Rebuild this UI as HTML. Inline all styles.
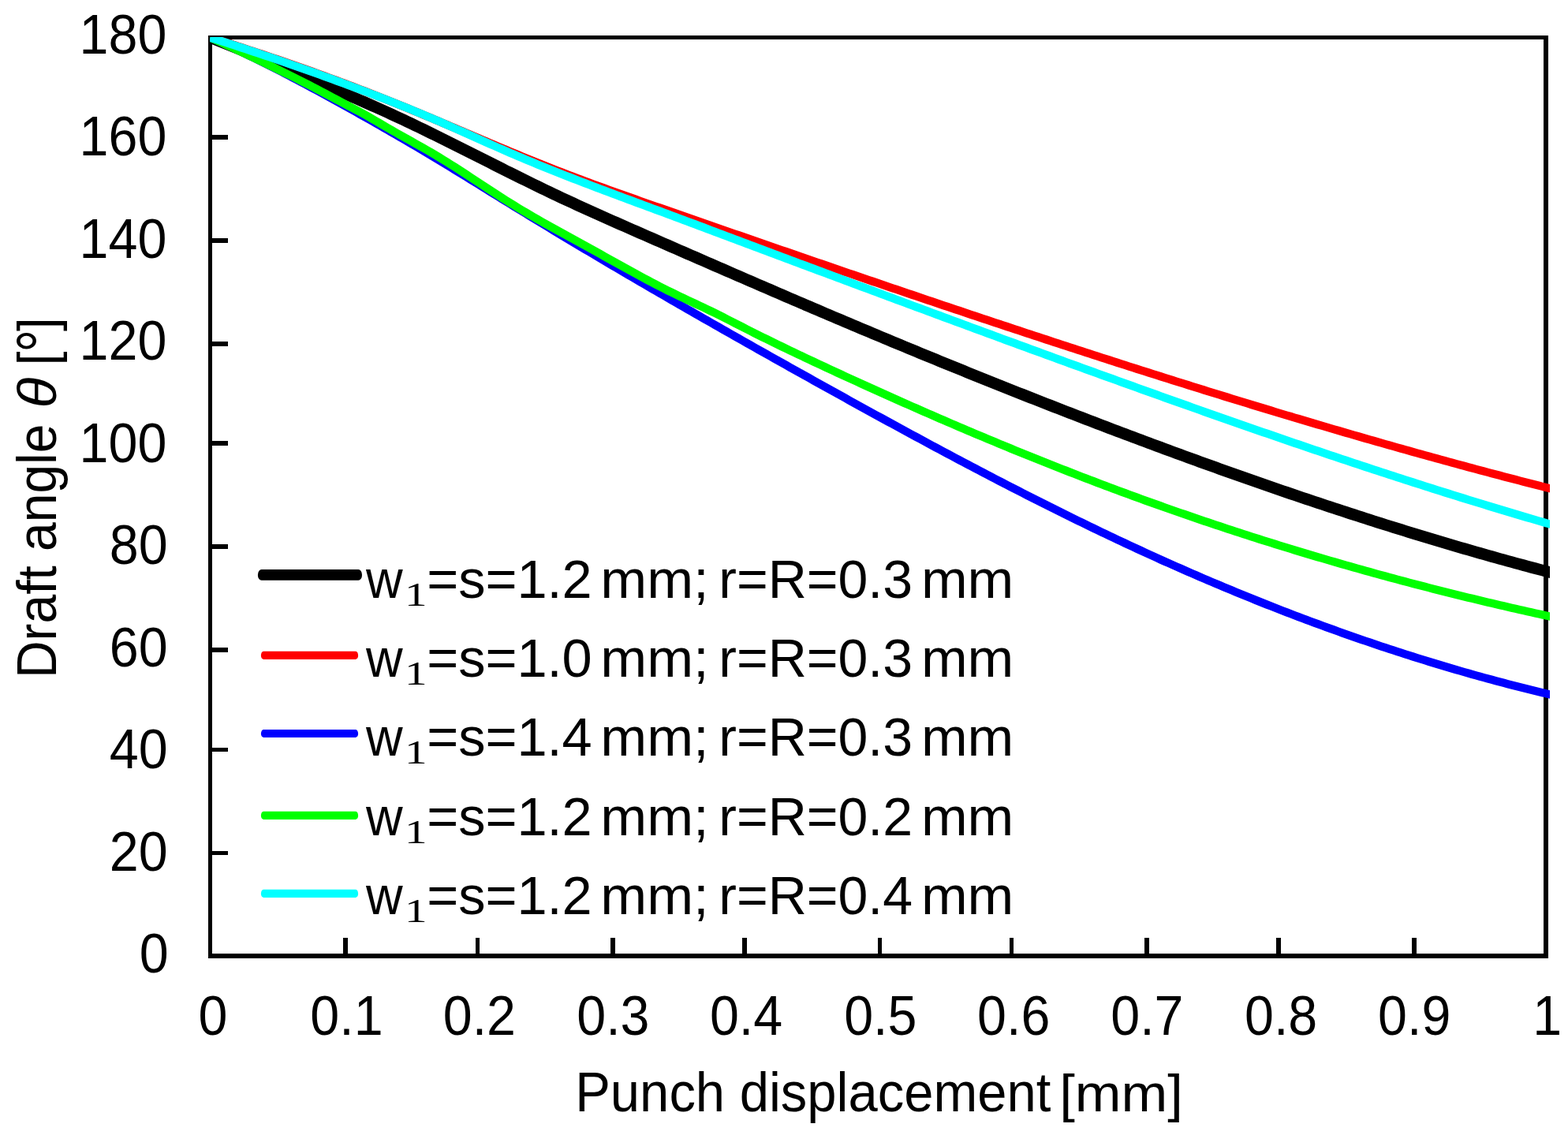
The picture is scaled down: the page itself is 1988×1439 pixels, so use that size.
<!DOCTYPE html>
<html><head><meta charset="utf-8"><title>Draft angle vs punch displacement</title>
<style>
html,body{margin:0;padding:0;background:#fff;}
body{width:1988px;height:1439px;overflow:hidden;}
svg{display:block;}
text{font-family:"Liberation Sans",Arial,sans-serif;fill:#000;font-kerning:none;}
text.serif{font-family:"Liberation Serif","Times New Roman",serif;}
text.it{font-style:italic;}
</style></head>
<body>
<svg width="1988" height="1439" viewBox="0 0 1988 1439">
<rect width="1988" height="1439" fill="#fff"/>
<g fill="#000" shape-rendering="crispEdges"><rect x="269" y="171" width="20" height="6"/><rect x="269" y="302" width="20" height="6"/><rect x="269" y="433" width="20" height="6"/><rect x="269" y="559" width="20" height="6"/><rect x="269" y="690" width="20" height="6"/><rect x="269" y="821" width="20" height="6"/><rect x="269" y="948" width="20" height="5"/><rect x="269" y="1079" width="20" height="5"/><rect x="435" y="1189" width="6" height="20"/><rect x="603" y="1189" width="5" height="20"/><rect x="774" y="1189" width="6" height="20"/><rect x="941" y="1189" width="6" height="20"/><rect x="1113" y="1189" width="5" height="20"/><rect x="1280" y="1189" width="5" height="20"/><rect x="1451" y="1189" width="6" height="20"/><rect x="1618" y="1189" width="6" height="20"/><rect x="1790" y="1189" width="6" height="20"/><rect x="264" y="45" width="1699" height="5"/><rect x="264" y="45" width="5" height="1170"/><rect x="1957" y="45" width="6" height="1170"/><rect x="264" y="1209" width="1699" height="6"/></g>
<g><text transform="translate(100.61,67.7) scale(0.9418,1)" font-size="70.5">180</text><text transform="translate(100.61,197.2) scale(0.9418,1)" font-size="70.5">160</text><text transform="translate(100.61,326.7) scale(0.9418,1)" font-size="70.5">140</text><text transform="translate(100.61,456.2) scale(0.9418,1)" font-size="70.5">120</text><text transform="translate(100.61,585.7) scale(0.9418,1)" font-size="70.5">100</text><text transform="translate(138.74,715.2) scale(0.9418,1)" font-size="70.5">80</text><text transform="translate(138.74,844.7) scale(0.9418,1)" font-size="70.5">60</text><text transform="translate(138.74,974.2) scale(0.9418,1)" font-size="70.5">40</text><text transform="translate(138.74,1103.7) scale(0.9418,1)" font-size="70.5">20</text><text transform="translate(176.67,1233.2) scale(0.9418,1)" font-size="70.5">0</text></g>
<g><text transform="translate(251.39,1312) scale(0.9418,1)" font-size="70.5">0</text><text transform="translate(393.31,1312) scale(0.9418,1)" font-size="70.5">0.1</text><text transform="translate(561.72,1312) scale(0.9418,1)" font-size="70.5">0.2</text><text transform="translate(731.21,1312) scale(0.9418,1)" font-size="70.5">0.3</text><text transform="translate(899.92,1312) scale(0.9418,1)" font-size="70.5">0.4</text><text transform="translate(1070.14,1312) scale(0.9418,1)" font-size="70.5">0.5</text><text transform="translate(1239.01,1312) scale(0.9418,1)" font-size="70.5">0.6</text><text transform="translate(1408.22,1312) scale(0.9418,1)" font-size="70.5">0.7</text><text transform="translate(1577.99,1312) scale(0.9418,1)" font-size="70.5">0.8</text><text transform="translate(1747.12,1312) scale(0.9418,1)" font-size="70.5">0.9</text><text transform="translate(1943.13,1312) scale(0.9418,1)" font-size="70.5">1</text></g>
<g><text transform="translate(729.2,1408.8) scale(0.9570,1)" font-size="70">Punch displacement </text><text transform="translate(1343.17,1408.8) scale(1.0453,1)" font-size="67.5">[mm]</text></g>
<g><text transform="translate(71.2,860.11) rotate(-90) scale(0.9420,1)" font-size="70">Draft angle </text><text class="it" transform="translate(71,517.43) rotate(-90) scale(1.0473,1)" font-size="68.4">&#952; </text><text transform="translate(71,463.36) rotate(-90) scale(0.9426,1)" font-size="67.8">[</text><text transform="translate(83.1,447) rotate(-90) scale(0.8345,1)" font-size="88.5">&#176;</text><text transform="translate(71,419.99) rotate(-90) scale(0.9203,1)" font-size="67.8">]</text></g>
<clipPath id="pc"><rect x="266" y="47" width="1699" height="1166"/></clipPath>
<g clip-path="url(#pc)" fill="none" stroke-linejoin="round">
<path d="M266.5,47.50 L271.5,49.48 L276.5,51.47 L281.5,53.47 L286.5,55.48 L291.5,57.50 L296.5,59.52 L301.5,61.55 L306.5,63.59 L311.5,65.64 L316.5,67.69 L321.5,69.75 L326.5,71.82 L331.5,73.89 L336.5,75.97 L341.5,78.05 L346.5,80.14 L351.5,82.24 L356.5,84.33 L361.5,86.44 L366.5,88.55 L371.5,90.66 L376.5,92.78 L381.5,94.90 L386.5,97.02 L391.5,99.15 L396.5,101.28 L401.5,103.42 L406.5,105.55 L411.5,107.69 L416.5,109.83 L421.5,111.98 L426.5,114.12 L431.5,116.27 L436.5,118.42 L441.5,120.58 L446.5,122.75 L451.5,124.92 L456.5,127.10 L461.5,129.29 L466.5,131.49 L471.5,133.71 L476.5,135.94 L481.5,138.18 L486.5,140.43 L491.5,142.70 L496.5,144.99 L501.5,147.30 L506.5,149.63 L511.5,151.97 L516.5,154.33 L521.5,156.71 L526.5,159.11 L531.5,161.51 L536.5,163.93 L541.5,166.37 L546.5,168.82 L551.5,171.27 L556.5,173.74 L561.5,176.22 L566.5,178.70 L571.5,181.19 L576.5,183.69 L581.5,186.20 L586.5,188.71 L591.5,191.22 L596.5,193.74 L601.5,196.26 L606.5,198.78 L611.5,201.30 L616.5,203.82 L621.5,206.34 L626.5,208.86 L631.5,211.38 L636.5,213.89 L641.5,216.40 L646.5,218.90 L651.5,221.39 L656.5,223.88 L661.5,226.36 L666.5,228.83 L671.5,231.29 L676.5,233.74 L681.5,236.18 L686.5,238.60 L691.5,241.02 L696.5,243.41 L701.5,245.80 L706.5,248.17 L711.5,250.52 L716.5,252.86 L721.5,255.18 L726.5,257.49 L731.5,259.79 L736.5,262.08 L741.5,264.36 L746.5,266.63 L751.5,268.89 L756.5,271.13 L761.5,273.37 L766.5,275.61 L771.5,277.83 L776.5,280.05 L781.5,282.27 L786.5,284.48 L791.5,286.68 L796.5,288.88 L801.5,291.08 L806.5,293.27 L811.5,295.47 L816.5,297.66 L821.5,299.85 L826.5,302.03 L831.5,304.22 L836.5,306.41 L841.5,308.59 L846.5,310.77 L851.5,312.96 L856.5,315.14 L861.5,317.32 L866.5,319.51 L871.5,321.69 L876.5,323.87 L881.5,326.05 L886.5,328.23 L891.5,330.42 L896.5,332.59 L901.5,334.77 L906.5,336.95 L911.5,339.13 L916.5,341.31 L921.5,343.48 L926.5,345.65 L931.5,347.83 L936.5,350.00 L941.5,352.17 L946.5,354.34 L951.5,356.51 L956.5,358.67 L961.5,360.84 L966.5,363.00 L971.5,365.16 L976.5,367.32 L981.5,369.48 L986.5,371.64 L991.5,373.79 L996.5,375.95 L1001.5,378.10 L1006.5,380.25 L1011.5,382.39 L1016.5,384.54 L1021.5,386.68 L1026.5,388.82 L1031.5,390.96 L1036.5,393.09 L1041.5,395.22 L1046.5,397.35 L1051.5,399.48 L1056.5,401.60 L1061.5,403.73 L1066.5,405.84 L1071.5,407.96 L1076.5,410.07 L1081.5,412.19 L1086.5,414.29 L1091.5,416.40 L1096.5,418.50 L1101.5,420.60 L1106.5,422.70 L1111.5,424.79 L1116.5,426.88 L1121.5,428.97 L1126.5,431.06 L1131.5,433.14 L1136.5,435.22 L1141.5,437.29 L1146.5,439.37 L1151.5,441.44 L1156.5,443.51 L1161.5,445.57 L1166.5,447.63 L1171.5,449.69 L1176.5,451.75 L1181.5,453.80 L1186.5,455.85 L1191.5,457.90 L1196.5,459.94 L1201.5,461.98 L1206.5,464.02 L1211.5,466.05 L1216.5,468.08 L1221.5,470.11 L1226.5,472.14 L1231.5,474.16 L1236.5,476.18 L1241.5,478.19 L1246.5,480.20 L1251.5,482.21 L1256.5,484.22 L1261.5,486.22 L1266.5,488.22 L1271.5,490.22 L1276.5,492.21 L1281.5,494.20 L1286.5,496.18 L1291.5,498.17 L1296.5,500.15 L1301.5,502.12 L1306.5,504.09 L1311.5,506.06 L1316.5,508.03 L1321.5,509.99 L1326.5,511.95 L1331.5,513.90 L1336.5,515.86 L1341.5,517.81 L1346.5,519.75 L1351.5,521.69 L1356.5,523.63 L1361.5,525.56 L1366.5,527.50 L1371.5,529.42 L1376.5,531.35 L1381.5,533.27 L1386.5,535.18 L1391.5,537.10 L1396.5,539.01 L1401.5,540.91 L1406.5,542.81 L1411.5,544.71 L1416.5,546.61 L1421.5,548.50 L1426.5,550.39 L1431.5,552.27 L1436.5,554.15 L1441.5,556.03 L1446.5,557.90 L1451.5,559.77 L1456.5,561.63 L1461.5,563.49 L1466.5,565.35 L1471.5,567.20 L1476.5,569.05 L1481.5,570.90 L1486.5,572.74 L1491.5,574.58 L1496.5,576.41 L1501.5,578.24 L1506.5,580.06 L1511.5,581.89 L1516.5,583.70 L1521.5,585.52 L1526.5,587.32 L1531.5,589.13 L1536.5,590.93 L1541.5,592.72 L1546.5,594.51 L1551.5,596.30 L1556.5,598.08 L1561.5,599.86 L1566.5,601.63 L1571.5,603.40 L1576.5,605.17 L1581.5,606.93 L1586.5,608.68 L1591.5,610.43 L1596.5,612.18 L1601.5,613.92 L1606.5,615.65 L1611.5,617.38 L1616.5,619.11 L1621.5,620.83 L1626.5,622.55 L1631.5,624.26 L1636.5,625.97 L1641.5,627.67 L1646.5,629.36 L1651.5,631.05 L1656.5,632.74 L1661.5,634.42 L1666.5,636.10 L1671.5,637.77 L1676.5,639.43 L1681.5,641.09 L1686.5,642.75 L1691.5,644.40 L1696.5,646.04 L1701.5,647.68 L1706.5,649.31 L1711.5,650.94 L1716.5,652.56 L1721.5,654.18 L1726.5,655.79 L1731.5,657.40 L1736.5,659.00 L1741.5,660.59 L1746.5,662.18 L1751.5,663.76 L1756.5,665.34 L1761.5,666.91 L1766.5,668.48 L1771.5,670.04 L1776.5,671.59 L1781.5,673.14 L1786.5,674.68 L1791.5,676.22 L1796.5,677.75 L1801.5,679.27 L1806.5,680.79 L1811.5,682.30 L1816.5,683.80 L1821.5,685.30 L1826.5,686.79 L1831.5,688.28 L1836.5,689.76 L1841.5,691.24 L1846.5,692.70 L1851.5,694.16 L1856.5,695.62 L1861.5,697.07 L1866.5,698.51 L1871.5,699.94 L1876.5,701.37 L1881.5,702.79 L1886.5,704.21 L1891.5,705.62 L1896.5,707.02 L1901.5,708.42 L1906.5,709.80 L1911.5,711.19 L1916.5,712.56 L1921.5,713.93 L1926.5,715.29 L1931.5,716.64 L1936.5,717.99 L1941.5,719.33 L1946.5,720.66 L1951.5,721.99 L1956.5,723.31 L1957.0,723.44 L1972.0,727.39" stroke="#000000" stroke-width="14.6"/>
<path d="M266.5,47.50 L271.5,49.06 L276.5,50.64 L281.5,52.22 L286.5,53.81 L291.5,55.41 L296.5,57.01 L301.5,58.62 L306.5,60.25 L311.5,61.88 L316.5,63.52 L321.5,65.16 L326.5,66.82 L331.5,68.48 L336.5,70.16 L341.5,71.84 L346.5,73.53 L351.5,75.23 L356.5,76.94 L361.5,78.66 L366.5,80.39 L371.5,82.13 L376.5,83.88 L381.5,85.64 L386.5,87.40 L391.5,89.18 L396.5,90.97 L401.5,92.76 L406.5,94.57 L411.5,96.39 L416.5,98.22 L421.5,100.06 L426.5,101.91 L431.5,103.77 L436.5,105.64 L441.5,107.52 L446.5,109.41 L451.5,111.31 L456.5,113.23 L461.5,115.15 L466.5,117.09 L471.5,119.04 L476.5,121.00 L481.5,122.97 L486.5,124.95 L491.5,126.95 L496.5,128.95 L501.5,130.97 L506.5,133.00 L511.5,135.05 L516.5,137.10 L521.5,139.16 L526.5,141.23 L531.5,143.31 L536.5,145.40 L541.5,147.49 L546.5,149.59 L551.5,151.70 L556.5,153.81 L561.5,155.93 L566.5,158.05 L571.5,160.17 L576.5,162.30 L581.5,164.43 L586.5,166.56 L591.5,168.69 L596.5,170.81 L601.5,172.94 L606.5,175.07 L611.5,177.19 L616.5,179.31 L621.5,181.43 L626.5,183.54 L631.5,185.65 L636.5,187.76 L641.5,189.85 L646.5,191.94 L651.5,194.02 L656.5,196.10 L661.5,198.16 L666.5,200.22 L671.5,202.26 L676.5,204.30 L681.5,206.32 L686.5,208.33 L691.5,210.32 L696.5,212.31 L701.5,214.28 L706.5,216.23 L711.5,218.17 L716.5,220.10 L721.5,222.01 L726.5,223.91 L731.5,225.80 L736.5,227.67 L741.5,229.54 L746.5,231.39 L751.5,233.24 L756.5,235.07 L761.5,236.90 L766.5,238.71 L771.5,240.52 L776.5,242.32 L781.5,244.11 L786.5,245.90 L791.5,247.68 L796.5,249.45 L801.5,251.22 L806.5,252.98 L811.5,254.74 L816.5,256.49 L821.5,258.24 L826.5,259.99 L831.5,261.74 L836.5,263.48 L841.5,265.22 L846.5,266.96 L851.5,268.70 L856.5,270.44 L861.5,272.18 L866.5,273.92 L871.5,275.66 L876.5,277.40 L881.5,279.14 L886.5,280.88 L891.5,282.61 L896.5,284.35 L901.5,286.09 L906.5,287.82 L911.5,289.56 L916.5,291.30 L921.5,293.03 L926.5,294.77 L931.5,296.50 L936.5,298.23 L941.5,299.97 L946.5,301.70 L951.5,303.43 L956.5,305.16 L961.5,306.89 L966.5,308.62 L971.5,310.35 L976.5,312.08 L981.5,313.81 L986.5,315.54 L991.5,317.27 L996.5,318.99 L1001.5,320.72 L1006.5,322.44 L1011.5,324.17 L1016.5,325.89 L1021.5,327.61 L1026.5,329.33 L1031.5,331.05 L1036.5,332.77 L1041.5,334.49 L1046.5,336.21 L1051.5,337.93 L1056.5,339.64 L1061.5,341.36 L1066.5,343.07 L1071.5,344.79 L1076.5,346.50 L1081.5,348.21 L1086.5,349.92 L1091.5,351.63 L1096.5,353.34 L1101.5,355.05 L1106.5,356.75 L1111.5,358.46 L1116.5,360.16 L1121.5,361.87 L1126.5,363.57 L1131.5,365.27 L1136.5,366.97 L1141.5,368.67 L1146.5,370.36 L1151.5,372.06 L1156.5,373.75 L1161.5,375.45 L1166.5,377.14 L1171.5,378.83 L1176.5,380.52 L1181.5,382.21 L1186.5,383.89 L1191.5,385.58 L1196.5,387.26 L1201.5,388.95 L1206.5,390.63 L1211.5,392.31 L1216.5,393.99 L1221.5,395.66 L1226.5,397.34 L1231.5,399.01 L1236.5,400.68 L1241.5,402.35 L1246.5,404.02 L1251.5,405.69 L1256.5,407.36 L1261.5,409.02 L1266.5,410.68 L1271.5,412.35 L1276.5,414.01 L1281.5,415.66 L1286.5,417.32 L1291.5,418.97 L1296.5,420.63 L1301.5,422.28 L1306.5,423.93 L1311.5,425.57 L1316.5,427.22 L1321.5,428.86 L1326.5,430.51 L1331.5,432.15 L1336.5,433.78 L1341.5,435.42 L1346.5,437.06 L1351.5,438.69 L1356.5,440.32 L1361.5,441.95 L1366.5,443.58 L1371.5,445.20 L1376.5,446.82 L1381.5,448.44 L1386.5,450.06 L1391.5,451.68 L1396.5,453.30 L1401.5,454.91 L1406.5,456.52 L1411.5,458.13 L1416.5,459.73 L1421.5,461.34 L1426.5,462.94 L1431.5,464.54 L1436.5,466.14 L1441.5,467.73 L1446.5,469.33 L1451.5,470.92 L1456.5,472.51 L1461.5,474.09 L1466.5,475.68 L1471.5,477.26 L1476.5,478.84 L1481.5,480.42 L1486.5,481.99 L1491.5,483.56 L1496.5,485.14 L1501.5,486.70 L1506.5,488.27 L1511.5,489.83 L1516.5,491.39 L1521.5,492.95 L1526.5,494.51 L1531.5,496.06 L1536.5,497.61 L1541.5,499.16 L1546.5,500.70 L1551.5,502.25 L1556.5,503.79 L1561.5,505.32 L1566.5,506.86 L1571.5,508.39 L1576.5,509.92 L1581.5,511.45 L1586.5,512.97 L1591.5,514.49 L1596.5,516.01 L1601.5,517.53 L1606.5,519.04 L1611.5,520.55 L1616.5,522.06 L1621.5,523.57 L1626.5,525.07 L1631.5,526.57 L1636.5,528.06 L1641.5,529.56 L1646.5,531.05 L1651.5,532.54 L1656.5,534.02 L1661.5,535.50 L1666.5,536.98 L1671.5,538.46 L1676.5,539.93 L1681.5,541.40 L1686.5,542.87 L1691.5,544.33 L1696.5,545.79 L1701.5,547.25 L1706.5,548.70 L1711.5,550.16 L1716.5,551.60 L1721.5,553.05 L1726.5,554.49 L1731.5,555.93 L1736.5,557.37 L1741.5,558.80 L1746.5,560.23 L1751.5,561.66 L1756.5,563.08 L1761.5,564.50 L1766.5,565.91 L1771.5,567.33 L1776.5,568.74 L1781.5,570.14 L1786.5,571.55 L1791.5,572.95 L1796.5,574.34 L1801.5,575.73 L1806.5,577.12 L1811.5,578.51 L1816.5,579.89 L1821.5,581.27 L1826.5,582.65 L1831.5,584.02 L1836.5,585.39 L1841.5,586.75 L1846.5,588.11 L1851.5,589.47 L1856.5,590.82 L1861.5,592.17 L1866.5,593.52 L1871.5,594.86 L1876.5,596.20 L1881.5,597.54 L1886.5,598.87 L1891.5,600.20 L1896.5,601.52 L1901.5,602.85 L1906.5,604.16 L1911.5,605.48 L1916.5,606.79 L1921.5,608.09 L1926.5,609.39 L1931.5,610.69 L1936.5,611.99 L1941.5,613.28 L1946.5,614.56 L1951.5,615.85 L1956.5,617.12 L1957.0,617.25 L1972.0,621.08" stroke="#ff0000" stroke-width="10.3"/>
<path d="M266.5,47.50 L271.5,49.73 L276.5,51.98 L281.5,54.25 L286.5,56.55 L291.5,58.87 L296.5,61.21 L301.5,63.57 L306.5,65.95 L311.5,68.35 L316.5,70.77 L321.5,73.21 L326.5,75.66 L331.5,78.14 L336.5,80.64 L341.5,83.15 L346.5,85.68 L351.5,88.22 L356.5,90.79 L361.5,93.37 L366.5,95.96 L371.5,98.57 L376.5,101.20 L381.5,103.83 L386.5,106.49 L391.5,109.16 L396.5,111.84 L401.5,114.53 L406.5,117.23 L411.5,119.95 L416.5,122.68 L421.5,125.42 L426.5,128.17 L431.5,130.94 L436.5,133.71 L441.5,136.49 L446.5,139.28 L451.5,142.08 L456.5,144.89 L461.5,147.71 L466.5,150.53 L471.5,153.37 L476.5,156.21 L481.5,159.06 L486.5,161.92 L491.5,164.79 L496.5,167.66 L501.5,170.55 L506.5,173.45 L511.5,176.36 L516.5,179.28 L521.5,182.21 L526.5,185.15 L531.5,188.11 L536.5,191.07 L541.5,194.05 L546.5,197.04 L551.5,200.05 L556.5,203.06 L561.5,206.09 L566.5,209.13 L571.5,212.18 L576.5,215.24 L581.5,218.30 L586.5,221.37 L591.5,224.45 L596.5,227.54 L601.5,230.63 L606.5,233.72 L611.5,236.81 L616.5,239.91 L621.5,243.00 L626.5,246.10 L631.5,249.19 L636.5,252.28 L641.5,255.37 L646.5,258.45 L651.5,261.53 L656.5,264.60 L661.5,267.67 L666.5,270.73 L671.5,273.78 L676.5,276.83 L681.5,279.87 L686.5,282.91 L691.5,285.94 L696.5,288.97 L701.5,291.99 L706.5,295.00 L711.5,298.01 L716.5,301.02 L721.5,304.02 L726.5,307.01 L731.5,310.00 L736.5,312.99 L741.5,315.97 L746.5,318.94 L751.5,321.91 L756.5,324.88 L761.5,327.84 L766.5,330.80 L771.5,333.75 L776.5,336.70 L781.5,339.64 L786.5,342.58 L791.5,345.51 L796.5,348.44 L801.5,351.37 L806.5,354.29 L811.5,357.21 L816.5,360.13 L821.5,363.04 L826.5,365.94 L831.5,368.85 L836.5,371.75 L841.5,374.64 L846.5,377.54 L851.5,380.42 L856.5,383.31 L861.5,386.19 L866.5,389.07 L871.5,391.95 L876.5,394.82 L881.5,397.69 L886.5,400.55 L891.5,403.42 L896.5,406.28 L901.5,409.13 L906.5,411.99 L911.5,414.84 L916.5,417.68 L921.5,420.53 L926.5,423.37 L931.5,426.21 L936.5,429.04 L941.5,431.88 L946.5,434.71 L951.5,437.53 L956.5,440.36 L961.5,443.18 L966.5,446.00 L971.5,448.81 L976.5,451.63 L981.5,454.44 L986.5,457.25 L991.5,460.05 L996.5,462.86 L1001.5,465.66 L1006.5,468.45 L1011.5,471.25 L1016.5,474.04 L1021.5,476.83 L1026.5,479.62 L1031.5,482.41 L1036.5,485.19 L1041.5,487.97 L1046.5,490.75 L1051.5,493.53 L1056.5,496.30 L1061.5,499.08 L1066.5,501.85 L1071.5,504.61 L1076.5,507.38 L1081.5,510.14 L1086.5,512.90 L1091.5,515.66 L1096.5,518.41 L1101.5,521.16 L1106.5,523.91 L1111.5,526.65 L1116.5,529.39 L1121.5,532.13 L1126.5,534.86 L1131.5,537.59 L1136.5,540.32 L1141.5,543.04 L1146.5,545.76 L1151.5,548.48 L1156.5,551.19 L1161.5,553.89 L1166.5,556.59 L1171.5,559.29 L1176.5,561.98 L1181.5,564.67 L1186.5,567.35 L1191.5,570.03 L1196.5,572.71 L1201.5,575.38 L1206.5,578.04 L1211.5,580.70 L1216.5,583.35 L1221.5,586.00 L1226.5,588.64 L1231.5,591.28 L1236.5,593.91 L1241.5,596.54 L1246.5,599.15 L1251.5,601.77 L1256.5,604.38 L1261.5,606.98 L1266.5,609.57 L1271.5,612.16 L1276.5,614.74 L1281.5,617.32 L1286.5,619.89 L1291.5,622.45 L1296.5,625.01 L1301.5,627.56 L1306.5,630.10 L1311.5,632.63 L1316.5,635.16 L1321.5,637.68 L1326.5,640.19 L1331.5,642.70 L1336.5,645.20 L1341.5,647.69 L1346.5,650.17 L1351.5,652.65 L1356.5,655.11 L1361.5,657.57 L1366.5,660.02 L1371.5,662.46 L1376.5,664.90 L1381.5,667.32 L1386.5,669.74 L1391.5,672.15 L1396.5,674.55 L1401.5,676.94 L1406.5,679.32 L1411.5,681.70 L1416.5,684.06 L1421.5,686.41 L1426.5,688.76 L1431.5,691.10 L1436.5,693.42 L1441.5,695.74 L1446.5,698.05 L1451.5,700.34 L1456.5,702.63 L1461.5,704.91 L1466.5,707.18 L1471.5,709.44 L1476.5,711.68 L1481.5,713.92 L1486.5,716.15 L1491.5,718.37 L1496.5,720.58 L1501.5,722.78 L1506.5,724.96 L1511.5,727.14 L1516.5,729.31 L1521.5,731.47 L1526.5,733.62 L1531.5,735.76 L1536.5,737.88 L1541.5,740.00 L1546.5,742.11 L1551.5,744.21 L1556.5,746.29 L1561.5,748.37 L1566.5,750.44 L1571.5,752.49 L1576.5,754.54 L1581.5,756.57 L1586.5,758.60 L1591.5,760.61 L1596.5,762.62 L1601.5,764.61 L1606.5,766.60 L1611.5,768.57 L1616.5,770.53 L1621.5,772.49 L1626.5,774.43 L1631.5,776.36 L1636.5,778.28 L1641.5,780.19 L1646.5,782.09 L1651.5,783.98 L1656.5,785.86 L1661.5,787.73 L1666.5,789.58 L1671.5,791.43 L1676.5,793.27 L1681.5,795.09 L1686.5,796.91 L1691.5,798.71 L1696.5,800.50 L1701.5,802.29 L1706.5,804.06 L1711.5,805.82 L1716.5,807.57 L1721.5,809.31 L1726.5,811.04 L1731.5,812.75 L1736.5,814.46 L1741.5,816.16 L1746.5,817.84 L1751.5,819.51 L1756.5,821.18 L1761.5,822.83 L1766.5,824.47 L1771.5,826.10 L1776.5,827.72 L1781.5,829.32 L1786.5,830.92 L1791.5,832.50 L1796.5,834.08 L1801.5,835.64 L1806.5,837.19 L1811.5,838.73 L1816.5,840.26 L1821.5,841.78 L1826.5,843.29 L1831.5,844.78 L1836.5,846.27 L1841.5,847.74 L1846.5,849.20 L1851.5,850.65 L1856.5,852.09 L1861.5,853.52 L1866.5,854.93 L1871.5,856.34 L1876.5,857.73 L1881.5,859.11 L1886.5,860.48 L1891.5,861.84 L1896.5,863.19 L1901.5,864.52 L1906.5,865.84 L1911.5,867.16 L1916.5,868.46 L1921.5,869.75 L1926.5,871.02 L1931.5,872.29 L1936.5,873.54 L1941.5,874.79 L1946.5,876.02 L1951.5,877.24 L1956.5,878.44 L1957.0,878.56 L1972.0,882.16" stroke="#0000ff" stroke-width="10.3"/>
<path d="M266.5,47.50 L271.5,49.81 L276.5,52.12 L281.5,54.44 L286.5,56.76 L291.5,59.08 L296.5,61.41 L301.5,63.75 L306.5,66.09 L311.5,68.44 L316.5,70.80 L321.5,73.17 L326.5,75.54 L331.5,77.93 L336.5,80.33 L341.5,82.74 L346.5,85.16 L351.5,87.60 L356.5,90.05 L361.5,92.52 L366.5,95.00 L371.5,97.50 L376.5,100.01 L381.5,102.55 L386.5,105.10 L391.5,107.67 L396.5,110.27 L401.5,112.88 L406.5,115.52 L411.5,118.17 L416.5,120.83 L421.5,123.49 L426.5,126.16 L431.5,128.82 L436.5,131.47 L441.5,134.10 L446.5,136.73 L451.5,139.38 L456.5,142.07 L461.5,144.81 L466.5,147.61 L471.5,150.46 L476.5,153.35 L481.5,156.27 L486.5,159.19 L491.5,162.11 L496.5,165.02 L501.5,167.89 L506.5,170.73 L511.5,173.54 L516.5,176.34 L521.5,179.12 L526.5,181.91 L531.5,184.71 L536.5,187.53 L541.5,190.39 L546.5,193.28 L551.5,196.23 L556.5,199.23 L561.5,202.29 L566.5,205.39 L571.5,208.53 L576.5,211.71 L581.5,214.92 L586.5,218.16 L591.5,221.41 L596.5,224.69 L601.5,227.97 L606.5,231.26 L611.5,234.55 L616.5,237.83 L621.5,241.10 L626.5,244.36 L631.5,247.60 L636.5,250.81 L641.5,253.99 L646.5,257.13 L651.5,260.23 L656.5,263.29 L661.5,266.31 L666.5,269.29 L671.5,272.23 L676.5,275.14 L681.5,278.02 L686.5,280.88 L691.5,283.71 L696.5,286.51 L701.5,289.30 L706.5,292.08 L711.5,294.84 L716.5,297.59 L721.5,300.33 L726.5,303.07 L731.5,305.81 L736.5,308.55 L741.5,311.29 L746.5,314.05 L751.5,316.81 L756.5,319.58 L761.5,322.36 L766.5,325.14 L771.5,327.93 L776.5,330.72 L781.5,333.51 L786.5,336.29 L791.5,339.06 L796.5,341.83 L801.5,344.58 L806.5,347.31 L811.5,350.02 L816.5,352.72 L821.5,355.39 L826.5,358.03 L831.5,360.64 L836.5,363.22 L841.5,365.77 L846.5,368.27 L851.5,370.74 L856.5,373.17 L861.5,375.56 L866.5,377.93 L871.5,380.29 L876.5,382.63 L881.5,384.98 L886.5,387.33 L891.5,389.70 L896.5,392.09 L901.5,394.51 L906.5,396.96 L911.5,399.45 L916.5,401.96 L921.5,404.48 L926.5,407.03 L931.5,409.58 L936.5,412.13 L941.5,414.68 L946.5,417.23 L951.5,419.76 L956.5,422.28 L961.5,424.78 L966.5,427.27 L971.5,429.74 L976.5,432.20 L981.5,434.65 L986.5,437.08 L991.5,439.50 L996.5,441.91 L1001.5,444.31 L1006.5,446.70 L1011.5,449.08 L1016.5,451.45 L1021.5,453.81 L1026.5,456.17 L1031.5,458.51 L1036.5,460.85 L1041.5,463.19 L1046.5,465.51 L1051.5,467.83 L1056.5,470.15 L1061.5,472.46 L1066.5,474.77 L1071.5,477.07 L1076.5,479.36 L1081.5,481.65 L1086.5,483.94 L1091.5,486.22 L1096.5,488.49 L1101.5,490.76 L1106.5,493.03 L1111.5,495.29 L1116.5,497.54 L1121.5,499.79 L1126.5,502.03 L1131.5,504.27 L1136.5,506.50 L1141.5,508.72 L1146.5,510.94 L1151.5,513.16 L1156.5,515.36 L1161.5,517.57 L1166.5,519.76 L1171.5,521.95 L1176.5,524.14 L1181.5,526.32 L1186.5,528.49 L1191.5,530.66 L1196.5,532.82 L1201.5,534.98 L1206.5,537.13 L1211.5,539.27 L1216.5,541.41 L1221.5,543.54 L1226.5,545.66 L1231.5,547.78 L1236.5,549.89 L1241.5,552.00 L1246.5,554.10 L1251.5,556.19 L1256.5,558.28 L1261.5,560.36 L1266.5,562.43 L1271.5,564.50 L1276.5,566.56 L1281.5,568.61 L1286.5,570.66 L1291.5,572.70 L1296.5,574.74 L1301.5,576.76 L1306.5,578.79 L1311.5,580.80 L1316.5,582.81 L1321.5,584.81 L1326.5,586.80 L1331.5,588.79 L1336.5,590.77 L1341.5,592.74 L1346.5,594.70 L1351.5,596.66 L1356.5,598.61 L1361.5,600.56 L1366.5,602.50 L1371.5,604.43 L1376.5,606.35 L1381.5,608.26 L1386.5,610.17 L1391.5,612.07 L1396.5,613.97 L1401.5,615.85 L1406.5,617.73 L1411.5,619.60 L1416.5,621.46 L1421.5,623.32 L1426.5,625.17 L1431.5,627.01 L1436.5,628.84 L1441.5,630.67 L1446.5,632.49 L1451.5,634.30 L1456.5,636.10 L1461.5,637.89 L1466.5,639.68 L1471.5,641.46 L1476.5,643.23 L1481.5,644.99 L1486.5,646.75 L1491.5,648.50 L1496.5,650.24 L1501.5,651.97 L1506.5,653.70 L1511.5,655.41 L1516.5,657.12 L1521.5,658.83 L1526.5,660.52 L1531.5,662.21 L1536.5,663.89 L1541.5,665.56 L1546.5,667.23 L1551.5,668.88 L1556.5,670.53 L1561.5,672.18 L1566.5,673.81 L1571.5,675.44 L1576.5,677.06 L1581.5,678.67 L1586.5,680.28 L1591.5,681.88 L1596.5,683.47 L1601.5,685.05 L1606.5,686.63 L1611.5,688.19 L1616.5,689.76 L1621.5,691.31 L1626.5,692.86 L1631.5,694.40 L1636.5,695.93 L1641.5,697.45 L1646.5,698.97 L1651.5,700.48 L1656.5,701.99 L1661.5,703.48 L1666.5,704.97 L1671.5,706.45 L1676.5,707.93 L1681.5,709.40 L1686.5,710.86 L1691.5,712.31 L1696.5,713.76 L1701.5,715.20 L1706.5,716.63 L1711.5,718.06 L1716.5,719.48 L1721.5,720.89 L1726.5,722.29 L1731.5,723.69 L1736.5,725.08 L1741.5,726.46 L1746.5,727.84 L1751.5,729.21 L1756.5,730.57 L1761.5,731.93 L1766.5,733.28 L1771.5,734.62 L1776.5,735.96 L1781.5,737.29 L1786.5,738.61 L1791.5,739.93 L1796.5,741.24 L1801.5,742.54 L1806.5,743.83 L1811.5,745.12 L1816.5,746.40 L1821.5,747.68 L1826.5,748.95 L1831.5,750.21 L1836.5,751.46 L1841.5,752.71 L1846.5,753.95 L1851.5,755.19 L1856.5,756.42 L1861.5,757.64 L1866.5,758.86 L1871.5,760.07 L1876.5,761.27 L1881.5,762.46 L1886.5,763.65 L1891.5,764.84 L1896.5,766.01 L1901.5,767.18 L1906.5,768.35 L1911.5,769.51 L1916.5,770.66 L1921.5,771.80 L1926.5,772.94 L1931.5,774.07 L1936.5,775.20 L1941.5,776.32 L1946.5,777.43 L1951.5,778.54 L1956.5,779.64 L1957.0,779.75 L1972.0,783.04" stroke="#00ff00" stroke-width="10.3"/>
<path d="M266.5,47.50 L271.5,49.10 L276.5,50.71 L281.5,52.33 L286.5,53.95 L291.5,55.58 L296.5,57.22 L301.5,58.86 L306.5,60.51 L311.5,62.16 L316.5,63.83 L321.5,65.49 L326.5,67.17 L331.5,68.85 L336.5,70.54 L341.5,72.24 L346.5,73.95 L351.5,75.66 L356.5,77.38 L361.5,79.10 L366.5,80.84 L371.5,82.58 L376.5,84.33 L381.5,86.09 L386.5,87.86 L391.5,89.63 L396.5,91.42 L401.5,93.21 L406.5,95.01 L411.5,96.82 L416.5,98.63 L421.5,100.46 L426.5,102.29 L431.5,104.14 L436.5,105.99 L441.5,107.85 L446.5,109.72 L451.5,111.61 L456.5,113.50 L461.5,115.39 L466.5,117.30 L471.5,119.22 L476.5,121.15 L481.5,123.09 L486.5,125.05 L491.5,127.01 L496.5,128.99 L501.5,130.98 L506.5,132.98 L511.5,135.00 L516.5,137.03 L521.5,139.08 L526.5,141.14 L531.5,143.21 L536.5,145.31 L541.5,147.41 L546.5,149.54 L551.5,151.68 L556.5,153.84 L561.5,156.02 L566.5,158.21 L571.5,160.41 L576.5,162.62 L581.5,164.84 L586.5,167.07 L591.5,169.30 L596.5,171.54 L601.5,173.77 L606.5,176.01 L611.5,178.24 L616.5,180.47 L621.5,182.70 L626.5,184.91 L631.5,187.12 L636.5,189.32 L641.5,191.50 L646.5,193.67 L651.5,195.83 L656.5,197.96 L661.5,200.08 L666.5,202.18 L671.5,204.27 L676.5,206.35 L681.5,208.40 L686.5,210.45 L691.5,212.48 L696.5,214.49 L701.5,216.50 L706.5,218.49 L711.5,220.47 L716.5,222.44 L721.5,224.40 L726.5,226.35 L731.5,228.29 L736.5,230.21 L741.5,232.14 L746.5,234.05 L751.5,235.95 L756.5,237.85 L761.5,239.74 L766.5,241.63 L771.5,243.51 L776.5,245.38 L781.5,247.25 L786.5,249.12 L791.5,250.98 L796.5,252.84 L801.5,254.70 L806.5,256.55 L811.5,258.41 L816.5,260.26 L821.5,262.11 L826.5,263.96 L831.5,265.81 L836.5,267.67 L841.5,269.52 L846.5,271.38 L851.5,273.24 L856.5,275.10 L861.5,276.96 L866.5,278.83 L871.5,280.70 L876.5,282.57 L881.5,284.44 L886.5,286.32 L891.5,288.19 L896.5,290.07 L901.5,291.95 L906.5,293.83 L911.5,295.71 L916.5,297.59 L921.5,299.47 L926.5,301.35 L931.5,303.23 L936.5,305.11 L941.5,306.99 L946.5,308.87 L951.5,310.75 L956.5,312.62 L961.5,314.50 L966.5,316.37 L971.5,318.25 L976.5,320.12 L981.5,322.00 L986.5,323.87 L991.5,325.74 L996.5,327.61 L1001.5,329.48 L1006.5,331.35 L1011.5,333.22 L1016.5,335.09 L1021.5,336.95 L1026.5,338.82 L1031.5,340.69 L1036.5,342.55 L1041.5,344.42 L1046.5,346.28 L1051.5,348.15 L1056.5,350.01 L1061.5,351.88 L1066.5,353.74 L1071.5,355.61 L1076.5,357.47 L1081.5,359.33 L1086.5,361.20 L1091.5,363.06 L1096.5,364.92 L1101.5,366.78 L1106.5,368.64 L1111.5,370.50 L1116.5,372.37 L1121.5,374.22 L1126.5,376.08 L1131.5,377.94 L1136.5,379.80 L1141.5,381.66 L1146.5,383.52 L1151.5,385.37 L1156.5,387.23 L1161.5,389.08 L1166.5,390.94 L1171.5,392.79 L1176.5,394.64 L1181.5,396.50 L1186.5,398.35 L1191.5,400.20 L1196.5,402.05 L1201.5,403.90 L1206.5,405.75 L1211.5,407.60 L1216.5,409.44 L1221.5,411.29 L1226.5,413.14 L1231.5,414.98 L1236.5,416.82 L1241.5,418.67 L1246.5,420.51 L1251.5,422.35 L1256.5,424.19 L1261.5,426.03 L1266.5,427.87 L1271.5,429.71 L1276.5,431.54 L1281.5,433.38 L1286.5,435.21 L1291.5,437.05 L1296.5,438.88 L1301.5,440.71 L1306.5,442.54 L1311.5,444.37 L1316.5,446.20 L1321.5,448.03 L1326.5,449.85 L1331.5,451.68 L1336.5,453.50 L1341.5,455.33 L1346.5,457.15 L1351.5,458.97 L1356.5,460.79 L1361.5,462.60 L1366.5,464.42 L1371.5,466.24 L1376.5,468.05 L1381.5,469.86 L1386.5,471.67 L1391.5,473.48 L1396.5,475.29 L1401.5,477.10 L1406.5,478.91 L1411.5,480.71 L1416.5,482.51 L1421.5,484.32 L1426.5,486.12 L1431.5,487.92 L1436.5,489.71 L1441.5,491.51 L1446.5,493.30 L1451.5,495.10 L1456.5,496.89 L1461.5,498.68 L1466.5,500.47 L1471.5,502.25 L1476.5,504.04 L1481.5,505.82 L1486.5,507.60 L1491.5,509.38 L1496.5,511.16 L1501.5,512.94 L1506.5,514.71 L1511.5,516.48 L1516.5,518.25 L1521.5,520.02 L1526.5,521.79 L1531.5,523.55 L1536.5,525.31 L1541.5,527.07 L1546.5,528.83 L1551.5,530.59 L1556.5,532.34 L1561.5,534.09 L1566.5,535.84 L1571.5,537.59 L1576.5,539.33 L1581.5,541.07 L1586.5,542.81 L1591.5,544.55 L1596.5,546.28 L1601.5,548.01 L1606.5,549.74 L1611.5,551.47 L1616.5,553.19 L1621.5,554.91 L1626.5,556.63 L1631.5,558.34 L1636.5,560.05 L1641.5,561.76 L1646.5,563.47 L1651.5,565.17 L1656.5,566.87 L1661.5,568.57 L1666.5,570.26 L1671.5,571.96 L1676.5,573.64 L1681.5,575.33 L1686.5,577.01 L1691.5,578.69 L1696.5,580.36 L1701.5,582.04 L1706.5,583.70 L1711.5,585.37 L1716.5,587.03 L1721.5,588.69 L1726.5,590.34 L1731.5,591.99 L1736.5,593.64 L1741.5,595.29 L1746.5,596.93 L1751.5,598.56 L1756.5,600.19 L1761.5,601.82 L1766.5,603.45 L1771.5,605.07 L1776.5,606.69 L1781.5,608.30 L1786.5,609.91 L1791.5,611.52 L1796.5,613.12 L1801.5,614.72 L1806.5,616.31 L1811.5,617.90 L1816.5,619.49 L1821.5,621.07 L1826.5,622.64 L1831.5,624.22 L1836.5,625.78 L1841.5,627.35 L1846.5,628.91 L1851.5,630.46 L1856.5,632.01 L1861.5,633.56 L1866.5,635.10 L1871.5,636.64 L1876.5,638.17 L1881.5,639.70 L1886.5,641.22 L1891.5,642.74 L1896.5,644.26 L1901.5,645.76 L1906.5,647.27 L1911.5,648.77 L1916.5,650.26 L1921.5,651.75 L1926.5,653.24 L1931.5,654.72 L1936.5,656.19 L1941.5,657.66 L1946.5,659.12 L1951.5,660.58 L1956.5,662.04 L1957.0,662.18 L1972.0,666.54" stroke="#00ffff" stroke-width="10.3"/>
</g>
<g stroke-linecap="round"><rect x="326.9" y="721.95" width="132.1" height="13.9" rx="4.59" ry="6.95" fill="#000000"/><text transform="translate(463.89,757.5) scale(0.9361,1)" font-size="69">w</text><text class="serif" transform="translate(513.08,767.8) scale(1.3466,1)" font-size="42.4">1</text><text transform="translate(541.15,757.5) scale(0.9933,1)" font-size="69">=s=1.2 </text><text transform="translate(761.3,757.5) scale(1.0248,1)" font-size="69">mm; </text><text transform="translate(911.28,757.5) scale(0.9863,1)" font-size="69">r=R=0.3 </text><text transform="translate(1167.92,757.5) scale(1.0215,1)" font-size="69">mm</text><rect x="330.9" y="825.85" width="123.2" height="10.2" rx="3.37" ry="5.1" fill="#ff0000"/><text transform="translate(463.89,858) scale(0.9361,1)" font-size="69">w</text><text class="serif" transform="translate(513.08,868.3) scale(1.3466,1)" font-size="42.4">1</text><text transform="translate(541.15,858) scale(0.9933,1)" font-size="69">=s=1.0 </text><text transform="translate(761.3,858) scale(1.0248,1)" font-size="69">mm; </text><text transform="translate(911.28,858) scale(0.9863,1)" font-size="69">r=R=0.3 </text><text transform="translate(1167.92,858) scale(1.0215,1)" font-size="69">mm</text><rect x="330.9" y="924.9" width="123.2" height="10.2" rx="3.37" ry="5.1" fill="#0000ff"/><text transform="translate(463.89,957.8) scale(0.9361,1)" font-size="69">w</text><text class="serif" transform="translate(513.08,968.1) scale(1.3466,1)" font-size="42.4">1</text><text transform="translate(541.15,957.8) scale(0.9933,1)" font-size="69">=s=1.4 </text><text transform="translate(761.3,957.8) scale(1.0248,1)" font-size="69">mm; </text><text transform="translate(911.28,957.8) scale(0.9863,1)" font-size="69">r=R=0.3 </text><text transform="translate(1167.92,957.8) scale(1.0215,1)" font-size="69">mm</text><rect x="330.9" y="1028.8" width="123.2" height="10.2" rx="3.37" ry="5.1" fill="#00ff00"/><text transform="translate(463.89,1058.6) scale(0.9361,1)" font-size="69">w</text><text class="serif" transform="translate(513.08,1068.9) scale(1.3466,1)" font-size="42.4">1</text><text transform="translate(541.15,1058.6) scale(0.9933,1)" font-size="69">=s=1.2 </text><text transform="translate(761.3,1058.6) scale(1.0248,1)" font-size="69">mm; </text><text transform="translate(911.28,1058.6) scale(0.9863,1)" font-size="69">r=R=0.2 </text><text transform="translate(1167.92,1058.6) scale(1.0215,1)" font-size="69">mm</text><rect x="330.9" y="1127.8" width="123.2" height="10.2" rx="3.37" ry="5.1" fill="#00ffff"/><text transform="translate(463.89,1158.9) scale(0.9361,1)" font-size="69">w</text><text class="serif" transform="translate(513.08,1169.2) scale(1.3466,1)" font-size="42.4">1</text><text transform="translate(541.15,1158.9) scale(0.9933,1)" font-size="69">=s=1.2 </text><text transform="translate(761.3,1158.9) scale(1.0248,1)" font-size="69">mm; </text><text transform="translate(911.28,1158.9) scale(0.9863,1)" font-size="69">r=R=0.4 </text><text transform="translate(1167.92,1158.9) scale(1.0215,1)" font-size="69">mm</text></g>
</svg>
</body></html>
